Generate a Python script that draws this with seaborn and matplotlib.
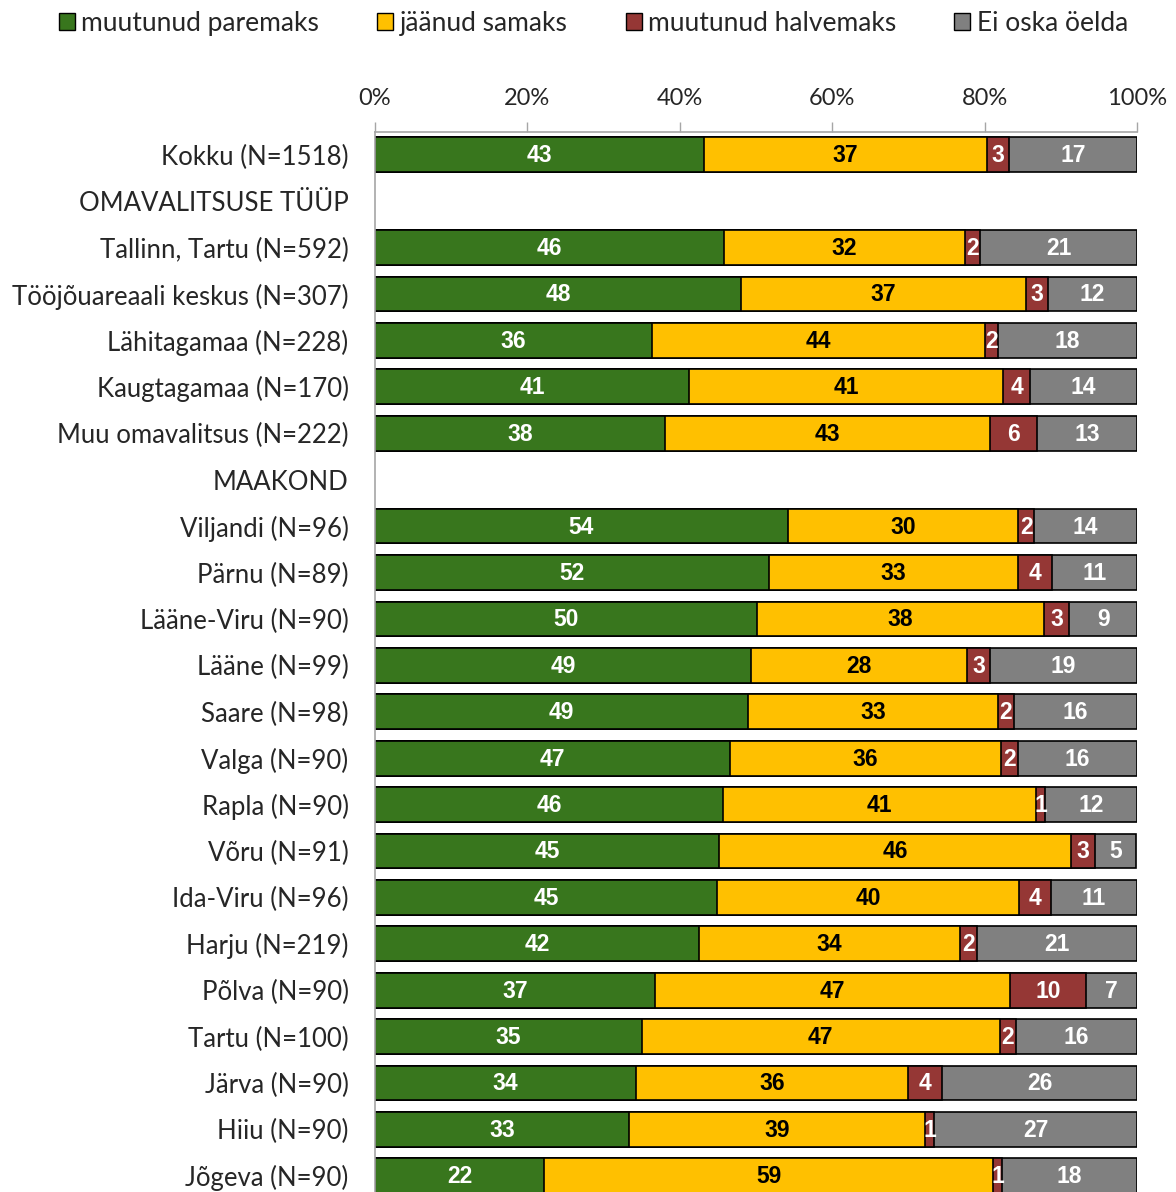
import numpy as np
import pandas as pd
import matplotlib
matplotlib.use('Agg')
import matplotlib.pyplot as plt
from matplotlib.patches import Patch
import seaborn as sns

# ── Data (percent shares) ──────────────────────────────────────────
rows = ['Kokku (N=1518)', 'OMAVALITSUSE TÜÜP',
        'Tallinn, Tartu (N=592)', 'Tööjõuareaali keskus (N=307)',
        'Lähitagamaa (N=228)', 'Kaugtagamaa (N=170)', 'Muu omavalitsus (N=222)',
        'MAAKOND',
        'Viljandi (N=96)', 'Pärnu (N=89)', 'Lääne-Viru (N=90)', 'Lääne (N=99)',
        'Saare (N=98)', 'Valga (N=90)', 'Rapla (N=90)', 'Võru (N=91)',
        'Ida-Viru (N=96)', 'Harju (N=219)', 'Põlva (N=90)', 'Tartu (N=100)',
        'Järva (N=90)', 'Hiiu (N=90)', 'Jõgeva (N=90)']
headings = ['OMAVALITSUSE TÜÜP', 'MAAKOND']
bar_rows = [r for r in rows if r not in headings]

better = [43.2, 45.8, 48.0, 36.4, 41.2, 38.1, 54.2, 51.7, 50.1, 49.4,
          49.0, 46.6, 45.7, 45.1, 44.9, 42.5, 36.7, 35.0, 34.3, 33.3, 22.2]
same = [37.1, 31.6, 37.4, 43.6, 41.2, 42.6, 30.2, 32.7, 37.7, 28.3,
        32.7, 35.6, 41.1, 46.3, 39.6, 34.3, 46.6, 47.0, 35.6, 38.9, 58.9]
worse = [2.9, 2.0, 2.9, 1.8, 3.6, 6.2, 2.1, 4.5, 3.3, 3.0,
         2.1, 2.2, 1.1, 3.1, 4.2, 2.2, 10.0, 2.1, 4.5, 1.2, 1.2]
dunno = [16.8, 20.6, 11.7, 18.2, 14.0, 13.1, 13.5, 11.1, 8.9, 19.3,
         16.2, 15.6, 12.1, 5.4, 11.3, 21.0, 6.7, 15.9, 25.6, 26.6, 17.7]

series = ['muutunud paremaks', 'jäänud samaks', 'muutunud halvemaks', 'Ei oska öelda']
colors = ['#38761D', '#FFC000', '#953735', '#808080']
text_colors = ['white', 'black', 'white', 'white']

df = pd.DataFrame({'row': bar_rows, series[0]: better, series[1]: same,
                   series[2]: worse, series[3]: dunno})
cum = df[series].cumsum(axis=1)

# ── Figure ───────────────────────────────────────────────────────
sns.set_style('white')
plt.rcParams['font.family'] = ['Lato', 'DejaVu Sans']

fig = plt.figure(figsize=(11.76, 11.92), dpi=100)
ax = fig.add_axes([375 / 1176, -0.0059, 762 / 1176, 0.8955])

# stacked bars: draw cumulative totals back to front
for i in range(len(series) - 1, -1, -1):
    sns.barplot(x=cum[series[i]].values, y=df['row'], order=rows, orient='h',
                color=colors[i], saturation=1, width=0.75,
                edgecolor='black', linewidth=1.2, ax=ax)

# value labels
lab_font = ['Liberation Sans', 'DejaVu Sans']
for i, s in enumerate(series):
    for r, v, c in zip(df['row'], df[s], cum[s]):
        y = rows.index(r)
        ax.text(c - v / 2, y + 0.02, f'{v:.0f}', ha='center', va='center',
                color=text_colors[i], fontsize=16.5, fontweight='bold',
                family=lab_font)

ax.set_xlim(0, 100)
ax.set_ylim(len(rows) - 0.5, -0.5)
ax.xaxis.tick_top()
ax.set_xticks(np.arange(0, 101, 20))
ax.set_xticklabels([f'{t}%' for t in range(0, 101, 20)])
ax.tick_params(axis='x', direction='out', length=7, width=1, color='#A6A6A6',
               labelsize=17, pad=9)
ax.tick_params(axis='y', length=0, labelsize=18.5, pad=19)
ax.set_xlabel('')
ax.set_ylabel('')
for side in ['right', 'bottom']:
    ax.spines[side].set_visible(False)
for side in ['top', 'left']:
    ax.spines[side].set_color('#A6A6A6')
    ax.spines[side].set_linewidth(1.2)

handles = [Patch(facecolor=c, edgecolor='black', linewidth=1) for c in colors]
fig.legend(handles, series, loc='upper left', bbox_to_anchor=(0.03, 1.011),
           ncol=4, frameon=False, fontsize=19, handlelength=0.6, handleheight=0.6,
           handletextpad=0.25, columnspacing=2.2)

fig.savefig('out.png', dpi=100)
